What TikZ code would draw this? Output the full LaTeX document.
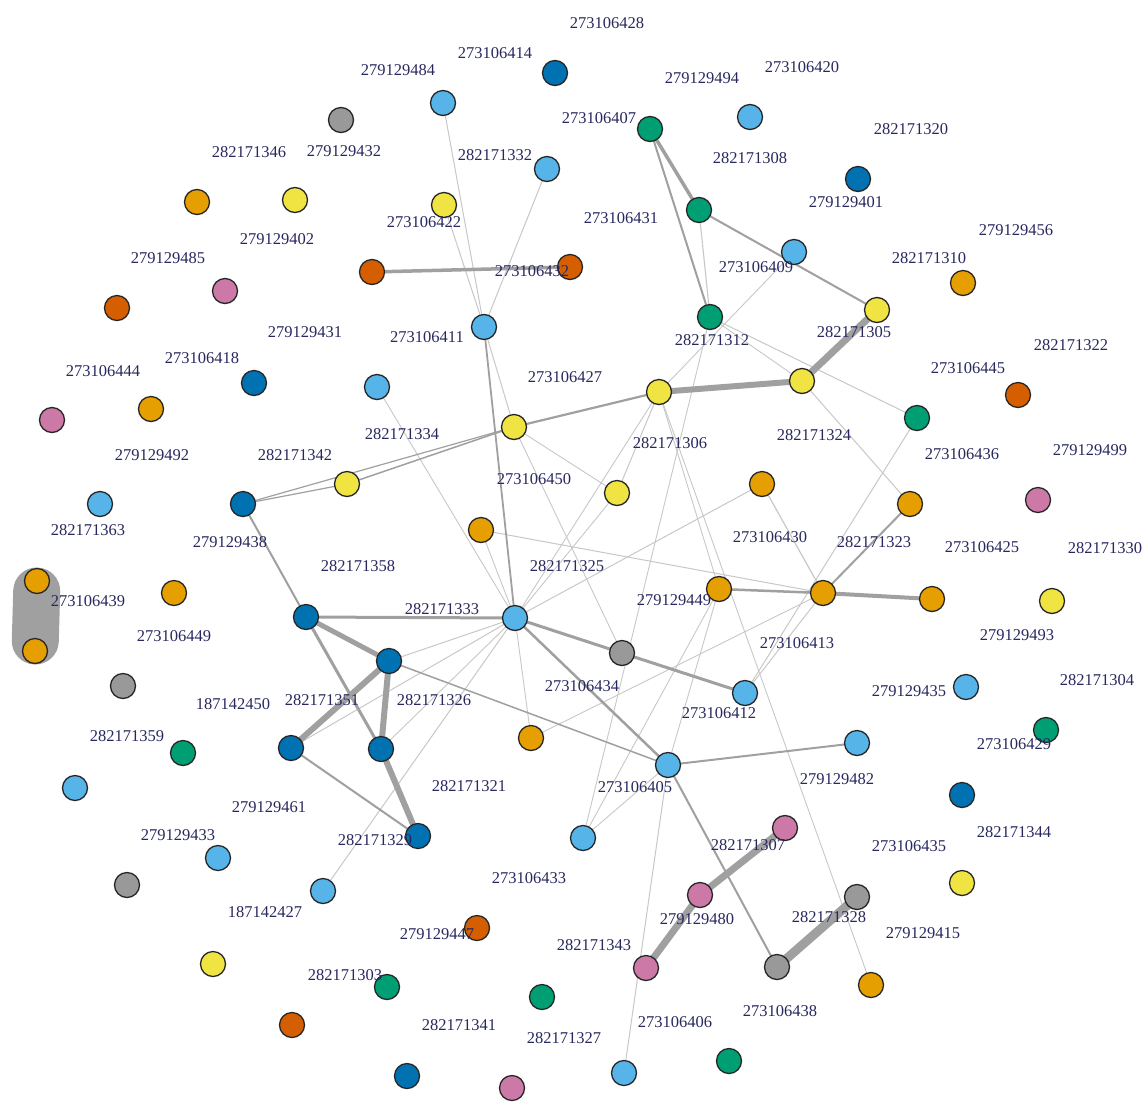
\documentclass[tikz,border=0pt]{standalone}
\usepackage{fontspec}
\setmainfont{Liberation Serif}
\definecolor{cLB}{HTML}{56B4E9}
\definecolor{cDB}{HTML}{0072B2}
\definecolor{cGR}{HTML}{009E73}
\definecolor{cYE}{HTML}{F0E442}
\definecolor{cOR}{HTML}{E69F00}
\definecolor{cVE}{HTML}{D55E00}
\definecolor{cPK}{HTML}{CC79A7}
\definecolor{cGY}{HTML}{999999}
\definecolor{labcol}{RGB}{40,40,95}
\definecolor{edthin}{RGB}{200,200,200}
\definecolor{edthick}{RGB}{160,160,160}
\pgfdeclarelayer{bg}
\pgfsetlayers{bg,main}
\begin{document}
\begin{tikzpicture}[x=1pt,y=-1pt,
  v/.style={circle,draw=black!85,line width=1.3pt,minimum size=25pt,inner sep=0pt},
  nLB/.style={v,fill=cLB}, nDB/.style={v,fill=cDB}, nGR/.style={v,fill=cGR},
  nYE/.style={v,fill=cYE}, nOR/.style={v,fill=cOR}, nVE/.style={v,fill=cVE},
  nPK/.style={v,fill=cPK}, nGY/.style={v,fill=cGY},
  lab/.style={text=labcol,font=\fontsize{16.5}{18}\selectfont,inner sep=0pt},
  thinedge/.style={draw=edthin},
  thickedge/.style={draw=edthick}]
\useasboundingbox (0,0) rectangle (1145,1101);
% vertices
\node[nDB] (A1) at (555,73) {};
\node[nLB] (A2) at (443,103) {};
\node[nGY] (A3) at (341,120) {};
\node[nGR] (A4) at (650,129) {};
\node[nLB] (A5) at (750,117) {};
\node[nLB] (A6) at (547,169) {};
\node[nDB] (A7) at (858,179) {};
\node[nOR] (A8) at (197,202) {};
\node[nYE] (A9) at (295,200) {};
\node[nYE] (A10) at (444,205) {};
\node[nGR] (A11) at (699,210) {};
\node[nLB] (A12) at (794,252) {};
\node[nVE] (A13) at (372,272) {};
\node[nVE] (A14) at (570,267) {};
\node[nPK] (A15) at (225,291) {};
\node[nVE] (A16) at (117,308) {};
\node[nOR] (A17) at (963,283) {};
\node[nYE] (A18) at (877,310) {};
\node[nGR] (A19) at (710,317) {};
\node[nLB] (A20) at (484,327) {};
\node[nDB] (A21) at (254,383) {};
\node[nLB] (A22) at (377,387) {};
\node[nYE] (A23) at (802,381) {};
\node[nYE] (A24) at (659,392) {};
\node[nVE] (A25) at (1018,395) {};
\node[nOR] (A26) at (151,409) {};
\node[nPK] (A27) at (52,420) {};
\node[nGR] (A28) at (917,418) {};
\node[nYE] (A29) at (514,427) {};
\node[nYE] (A30) at (347,484) {};
\node[nYE] (A31) at (617,493) {};
\node[nOR] (A32) at (762,484) {};
\node[nOR] (A33) at (910,504) {};
\node[nPK] (A34) at (1038,500) {};
\node[nDB] (A35) at (243,504) {};
\node[nLB] (A36) at (100,504) {};
\node[nOR] (A37) at (481,530) {};
\node[nOR] (A38) at (37,581) {};
\node[nOR] (A39) at (35,651) {};
\node[nOR] (A40) at (174,593) {};
\node[nOR] (A41) at (719,589) {};
\node[nOR] (A42) at (823,593) {};
\node[nOR] (A43) at (932,599) {};
\node[nYE] (A44) at (1052,601) {};
\node[nDB] (A45) at (306,617) {};
\node[nLB] (A46) at (515,618) {};
\node[nGY] (A47) at (622,653) {};
\node[nDB] (A48) at (389,661) {};
\node[nGY] (A49) at (123,686) {};
\node[nLB] (A50) at (745,693) {};
\node[nLB] (A51) at (966,687) {};
\node[nGR] (A52) at (1046,730) {};
\node[nOR] (A53) at (531,738) {};
\node[nLB] (A54) at (857,743) {};
\node[nGR] (A55) at (183,753) {};
\node[nDB] (A56) at (291,748) {};
\node[nDB] (A57) at (381,749) {};
\node[nLB] (A58) at (668,765) {};
\node[nLB] (A59) at (75,788) {};
\node[nDB] (A60) at (962,795) {};
\node[nDB] (A61) at (418,836) {};
\node[nLB] (A62) at (583,838) {};
\node[nPK] (A63) at (785,828) {};
\node[nLB] (A64) at (218,858) {};
\node[nGY] (A65) at (127,885) {};
\node[nYE] (A66) at (962,883) {};
\node[nLB] (A67) at (323,891) {};
\node[nPK] (A68) at (700,895) {};
\node[nGY] (A69) at (857,897) {};
\node[nVE] (A70) at (477,928) {};
\node[nYE] (A71) at (213,964) {};
\node[nPK] (A72) at (646,968) {};
\node[nGY] (A73) at (777,967) {};
\node[nOR] (A74) at (871,985) {};
\node[nGR] (A75) at (387,987) {};
\node[nGR] (A76) at (542,997) {};
\node[nVE] (A77) at (292,1025) {};
\node[nGR] (A78) at (729,1061) {};
\node[nLB] (A79) at (624,1073) {};
\node[nDB] (A80) at (407,1076) {};
\node[nPK] (A81) at (512,1088) {};
% edges
\begin{pgfonlayer}{bg}
\fill[white] (0,0) rectangle (1145,1101);
\draw[thickedge,line width=47pt,line cap=round,shorten <=10pt,shorten >=10pt] (A38.center) -- (A39.center);
\foreach \a/\b/\w in {A2/A20/1, A10/A20/1, A6/A20/1, A20/A29/1, A22/A46/0.9,
  A24/A31/1, A29/A31/0.9, A31/A46/0.9, A29/A47/0.9, A24/A41/0.9, A24/A46/0.9,
  A24/A74/0.9, A12/A24/0.9, A19/A62/0.9, A19/A23/0.9, A19/A28/1, A23/A33/1,
  A28/A50/1, A32/A42/1.2, A32/A46/1, A37/A42/1, A37/A46/0.9, A53/A42/0.9,
  A50/A42/1, A41/A58/0.9, A41/A62/0.9, A46/A53/0.9, A48/A46/1, A56/A46/1,
  A57/A46/0.9, A67/A46/1, A58/A79/1, A58/A62/0.9, A11/A19/1.1}
  \draw[thinedge,line width=\w pt] (\a.center) -- (\b.center);
\foreach \a/\b/\w in {A13/A14/3.5, A4/A11/3.5, A4/A19/2, A11/A18/2, A18/A23/7,
  A23/A24/6, A35/A30/1.2, A30/A29/1.5, A35/A29/1.2, A29/A24/2.2, A20/A46/1.8,
  A33/A42/2, A41/A42/2.5, A42/A43/4, A46/A58/2.5, A46/A47/3, A47/A50/3,
  A45/A46/3, A35/A45/2, A45/A48/5, A45/A57/3, A48/A57/6, A48/A56/6,
  A48/A58/1.5, A56/A61/2, A57/A61/6, A58/A54/2, A58/A73/2, A63/A68/7,
  A68/A72/7, A69/A73/9}
  \draw[thickedge,line width=\w pt] (\a.center) -- (\b.center);
\end{pgfonlayer}
% labels
\foreach \x/\y/\t [count=\i] in {
607/23/273106428, 495/53/273106414, 398/70/279129484, 702/78/279129494,
802/67/273106420, 599/118/273106407, 911/129/282171320, 249/152/282171346,
344/151/279129432, 495/155/282171332, 750/158/282171308, 846/202/279129401,
621/218/273106431, 424/222/273106422, 277/239/279129402, 1016/230/279129456,
168/258/279129485, 929/258/282171310, 756/267/273106409, 532/271/273106432,
305/332/279129431, 427/337/273106411, 854/332/282171305, 712/340/282171312,
1071/345/282171322, 202/358/273106418, 103/371/273106444, 968/368/273106445,
565/377/273106427, 402/434/282171334, 670/443/282171306, 814/435/282171324,
962/454/273106436, 1090/450/279129499, 152/455/279129492, 295/455/282171342,
534/479/273106450, 88/530/282171363, 770/537/273106430, 874/542/282171323,
230/542/279129438, 982/547/273106425, 1105/548/282171330, 358/566/282171358,
567/566/282171325, 88/601/273106439, 674/600/279129449, 442/609/282171333,
174/636/273106449, 1017/635/279129493, 797/643/273106413, 582/686/273106434,
909/691/279129435, 1097/680/282171304, 233/704/187142450, 322/700/282171351,
434/700/282171326, 719/713/273106412, 127/736/282171359, 1014/744/273106429,
837/779/279129482, 469/786/282171321, 635/787/273106405, 269/807/279129461,
178/835/279129433, 375/840/282171329, 748/845/282171307, 1014/832/282171344,
909/846/273106435, 529/878/273106433, 265/912/187142427, 697/919/279129480,
829/917/282171328, 923/933/279129415, 437/934/279129447, 594/945/282171343,
345/975/282171303, 780/1011/273106438, 675/1022/273106406, 459/1025/282171341,
564/1038/282171327}
  \node[lab] (L\i) at (\x,\y) {\t};
\end{tikzpicture}
\end{document}
